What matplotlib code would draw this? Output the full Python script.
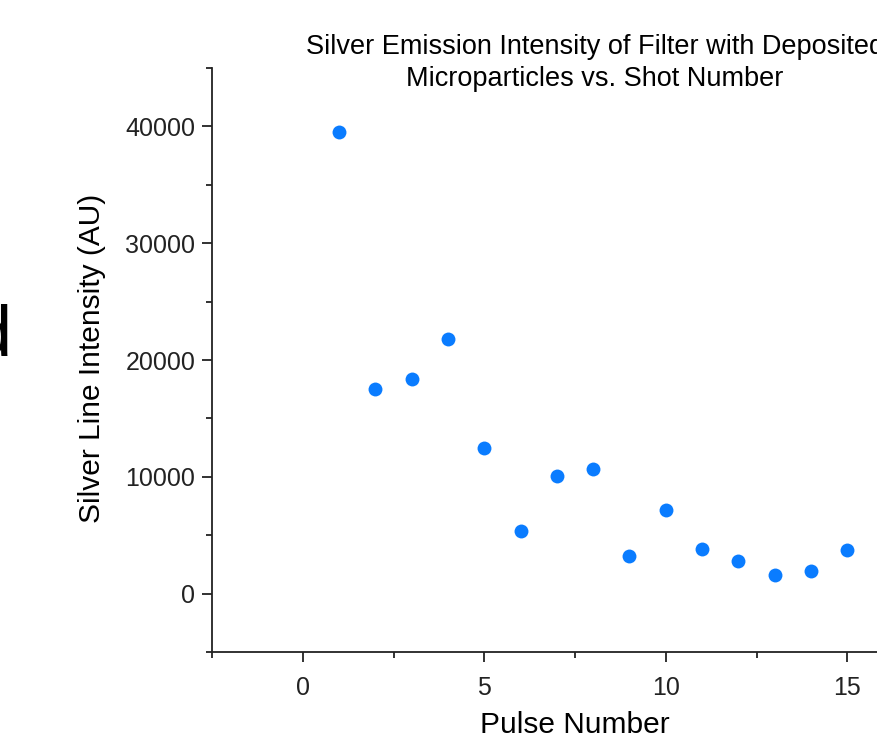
import matplotlib
matplotlib.use("Agg")
import matplotlib.pyplot as plt
from matplotlib.ticker import MultipleLocator

plt.rcParams['font.family'] = ['Liberation Sans', 'DejaVu Sans']

pulse = [1, 2, 3, 4, 5, 6, 7, 8, 9, 10, 11, 12, 13, 14, 15]
intensity = [39550, 17550, 18400, 21800, 12500, 5400, 10100, 10700,
             3250, 7200, 3850, 2750, 1600, 1900, 3700]

title = "Silver Emission Intensity of Filter with Deposited\nMicroparticles vs. Shot Number"
xlabel = "Pulse Number"
ylabel = "Silver Line Intensity (AU)"
xticks = [0, 5, 10, 15]
yticks = [0, 10000, 20000, 30000, 40000]

fig = plt.figure(figsize=(8.78, 7.36), dpi=100)
ax = fig.add_axes([212/878, 1-652/736, 766/878, 584/736])

ax.plot(pulse, intensity, 'o', color='#0A7CFF', markersize=10, markeredgewidth=0)

ax.set_xlim(-2.5, 18.6)
ax.set_ylim(-5000, 45000)
ax.set_xticks(xticks)
ax.set_yticks(yticks)
ax.xaxis.set_minor_locator(MultipleLocator(2.5))
ax.yaxis.set_minor_locator(MultipleLocator(5000))
ax.tick_params(which='major', direction='out', length=7, width=1.3, labelsize=18, colors='#222222')
ax.tick_params(axis='x', which='major', pad=10)
ax.tick_params(axis='y', which='major', pad=5)
ax.tick_params(which='minor', direction='out', length=4, width=1.3, colors='#222222')

for s in ['top', 'right']:
    ax.spines[s].set_visible(False)
for s in ['left', 'bottom']:
    ax.spines[s].set_linewidth(1.3)
    ax.spines[s].set_color('#222222')

fig.text(595/878, 1-63/736, title, fontsize=19.5, linespacing=1.3,
         ha='center', va='center')
ax.set_xlabel(xlabel, fontsize=21.5)
ax.xaxis.set_label_coords((575-212)/766, -(725-652)/584)
ax.xaxis.label.set_va('center')
ax.set_ylabel(ylabel, fontsize=21.5)
ax.yaxis.set_label_coords(-(212-92)/766, (652-358)/584)
ax.yaxis.label.set_va('center')

fig.text(12.5/878, 1-356/736, "d", fontsize=52, ha='right', va='baseline')

fig.savefig("out.png", dpi=100)
